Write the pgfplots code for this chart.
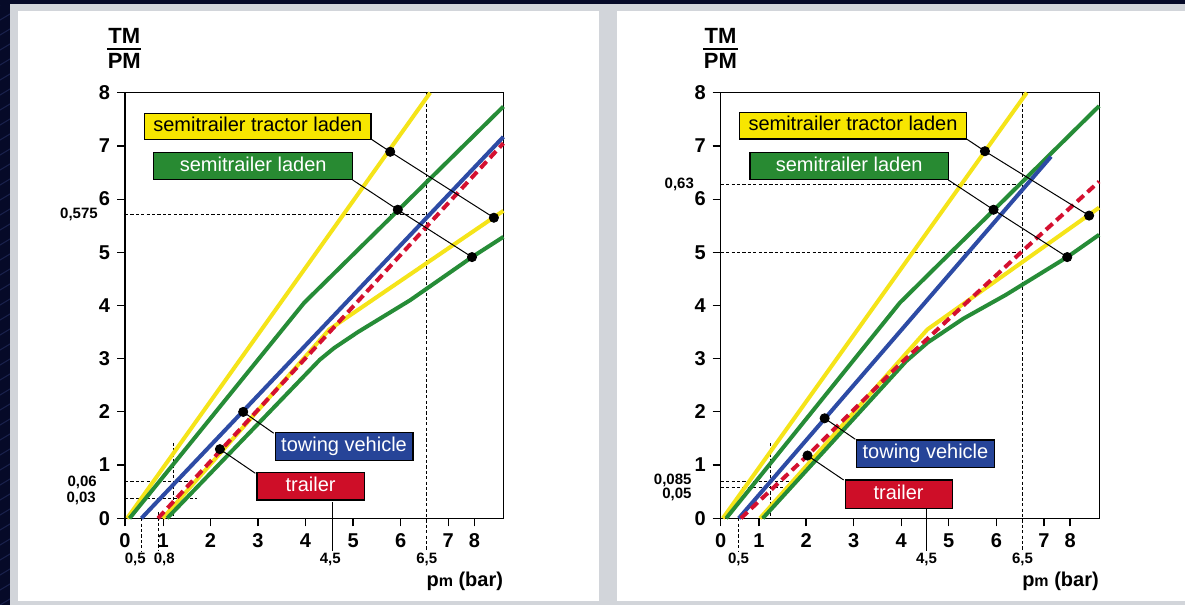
\documentclass[border=0pt]{standalone}
\usepackage{pgfplots}
\pgfplotsset{compat=1.18}
\usepackage{fontspec}
\setmainfont{Liberation Sans}

\definecolor{navy}{RGB}{6,10,40}
\definecolor{stripe}{RGB}{26,34,78}
\definecolor{frame}{RGB}{210,213,218}
\definecolor{cY}{RGB}{245,228,25}
\definecolor{cYbox}{RGB}{247,230,0}
\definecolor{cG}{RGB}{38,140,55}
\definecolor{cGbox}{RGB}{40,138,50}
\definecolor{cB}{RGB}{45,75,165}
\definecolor{cBbox}{RGB}{38,68,152}
\definecolor{cR}{RGB}{212,16,48}
\definecolor{cRbox}{RGB}{206,14,40}

\newcommand{\tickfont}{\fontsize{10}{12}\selectfont\bfseries}
\newcommand{\fracfont}{\fontsize{11}{12}\selectfont\bfseries}
\newcommand{\smallfont}{\fontsize{7.5}{9}\selectfont\bfseries}
\newcommand{\boxfont}{\fontsize{10}{12}\selectfont}

\pgfplotsset{
  brk/.style={
    scale only axis, width=189.2pt, height=212.8pt,
    xmin=0.205, xmax=8.16, ymin=0, ymax=8,
    clip=false,
    axis line style={black, line width=0.6pt},
    tick style={black, line width=0.6pt},
    major tick length=4pt,
    tick align=outside, tick pos=left,
    xtick={0.205,1.01,2,3,4,5,6,7,7.55},
    xticklabels={0,1,2,3,4,5,6,7,8},
    ytick={0,1,2,3,4,5,6,7,8},
    yticklabels={0,1,2,3,4,5,6,7,8},
    tick label style={font=\tickfont},
    /pgf/number format/assume math mode=true,
  },
  cy/.style={cY, line width=2pt, line join=round},
  cg/.style={cG, line width=2pt, line join=round},
  cb/.style={cB, line width=2pt, line join=round},
  cr/.style={cR, line width=2pt, dash pattern=on 4.5pt off 2.5pt},
  refd/.style={black, line width=0.5pt, dash pattern=on 1.6pt off 1.1pt},
  refs/.style={black, line width=0.5pt},
  leader/.style={black, line width=0.5pt},
  dots/.style={only marks, mark=*, mark size=2.3pt, black},
}
\tikzset{
  lbl/.style={draw=black, line width=0.6pt, inner sep=0pt, font=\boxfont, text height=7.3pt, text depth=2pt},
  sm/.style={font=\smallfont, inner sep=0pt},
}

\begin{document}
\begin{tikzpicture}[x=0.5pt,y=0.5pt]
\fill[navy] (0,0) rectangle (1185,605);
\begin{scope}
\clip (0,0) rectangle (1185,605);
\foreach \i in {-42,...,48} \draw[stripe, line width=0.5pt] (\i*25,0) -- ++(1000,600);
\end{scope}
\fill[frame] (10,0) rectangle (1185,601);
\fill[white] (18,4) rectangle (599,594);
\fill[white] (617,4) rectangle (1185,594);

% ---------------- left chart ----------------
\begin{axis}[brk, at={(62.5pt,43.35pt)}, anchor=south west]
\addplot[refd] coordinates {(0.205,5.72) (6.55,5.72)};
\addplot[refd] coordinates {(6.55,8) (6.55,-0.62)};
\addplot[refd] coordinates {(0.205,0.69) (1.72,0.69)};
\addplot[refd] coordinates {(0.205,0.376) (1.72,0.376)};
\addplot[refd] coordinates {(1.23,1.42) (1.23,0)};
\addplot[refd] coordinates {(0.56,0) (0.56,-0.62)};
\addplot[refd] coordinates {(0.91,0.12) (0.91,-0.62)};
\addplot[refs] coordinates {(4.56,0.3) (4.56,-0.62)};

\addplot[cy] coordinates {(0.25,0) (6.62,8)};
\addplot[cy] coordinates {(1.0,0) (4.5,3.55) (8.16,5.78)};
\addplot[cg] coordinates {(0.30,0) (3.97,4.05) (8.16,7.74)};
\addplot[cg] coordinates {(1.09,0) (4.3,2.98) (4.6,3.2) (5.1,3.5) (6.2,4.1) (7.5,4.91) (8.16,5.29)};
\addplot[cb] coordinates {(0.55,0) (8.16,7.17)};
\addplot[cr] coordinates {(0.9,0) (8.16,7.05)};

\addplot[leader] coordinates {(5.376,7.13) (5.78,6.89) (7.96,5.65)};
\addplot[leader] coordinates {(4.99,6.36) (5.94,5.80) (7.50,4.91)};
\addplot[leader] coordinates {(2.69,2.0) (3.33,1.60)};
\addplot[leader] coordinates {(2.20,1.30) (2.945,0.846)};
\addplot[dots] coordinates {(5.78,6.89) (7.96,5.65) (5.94,5.80) (7.50,4.91) (2.69,2.0) (2.20,1.30)};

\node[lbl, fill=cYbox, minimum width=113.2pt, minimum height=13pt] at (axis cs:2.997,7.37) {semitrailer tractor laden};
\node[lbl, fill=cGbox, text=white, minimum width=99.5pt, minimum height=13.7pt] at (axis cs:2.90,6.62) {semitrailer laden};
\node[lbl, fill=cBbox, text=white, minimum width=68.9pt, minimum height=14.2pt] at (axis cs:4.81,1.35) {towing vehicle};
\node[lbl, fill=cRbox, text=white, minimum width=53.6pt, minimum height=13.7pt] at (axis cs:4.107,0.60) {trailer};

\node[sm, anchor=east] at (axis cs:-0.36,5.72) {0,575};
\node[sm, anchor=east] at (axis cs:-0.38,0.67) {0,06};
\node[sm, anchor=east] at (axis cs:-0.40,0.376) {0,03};
\node[sm] at (axis cs:0.42,-0.77) {0,5};
\node[sm] at (axis cs:1.03,-0.77) {0,8};
\node[sm] at (axis cs:4.52,-0.77) {4,5};
\node[sm] at (axis cs:6.55,-0.77) {6,5};
\node[anchor=east, font=\tickfont, inner sep=0pt] at (axis cs:8.16,-1.18) {p{\fontsize{8}{8}\selectfont m} (bar)};
\node[font=\fracfont, inner sep=0pt] at (axis cs:0.19,9.06) {TM};
\node[font=\fracfont, inner sep=0pt] at (axis cs:0.19,8.59) {PM};
\draw[black, line width=1pt] (axis cs:-0.17,8.82) -- (axis cs:0.55,8.82);
\end{axis}

% ---------------- right chart ----------------
\begin{axis}[brk, at={(360.35pt,43.35pt)}, anchor=south west]
\addplot[refd] coordinates {(0.205,6.27) (6.55,6.27)};
\addplot[refd] coordinates {(0.205,5.0) (6.55,5.0)};
\addplot[refd] coordinates {(6.55,8) (6.55,-0.62)};
\addplot[refd] coordinates {(0.205,0.69) (1.71,0.69)};
\addplot[refd] coordinates {(0.205,0.575) (1.71,0.575)};
\addplot[refd] coordinates {(1.26,1.42) (1.26,0)};
\addplot[refd] coordinates {(0.58,0) (0.58,-0.62)};
\addplot[refs] coordinates {(4.54,0.19) (4.54,-0.62)};

\addplot[cy] coordinates {(0.25,0) (6.64,8)};
\addplot[cy] coordinates {(1.03,0) (4.55,3.55) (8.16,5.84)};
\addplot[cg] coordinates {(0.32,0) (3.97,4.05) (8.16,7.75)};
\addplot[cg] coordinates {(1.09,0) (4.1,2.95) (4.55,3.3) (5.3,3.75) (6.2,4.2) (7.49,4.91) (8.16,5.33)};
\addplot[cb] coordinates {(0.585,0) (7.15,6.8)};
\addplot[cr] coordinates {(0.63,0) (2.03,1.18) (3.95,2.88) (6.52,5.0) (8.16,6.33)};

\addplot[leader] coordinates {(5.374,7.13) (5.76,6.90) (7.95,5.69)};
\addplot[leader] coordinates {(4.99,6.36) (5.94,5.80) (7.49,4.91)};
\addplot[leader] coordinates {(2.39,1.88) (3.036,1.485)};
\addplot[leader] coordinates {(2.03,1.18) (2.79,0.72)};
\addplot[dots] coordinates {(5.76,6.90) (7.95,5.69) (5.94,5.80) (7.49,4.91) (2.39,1.88) (2.03,1.18)};

\node[lbl, fill=cYbox, minimum width=113.6pt, minimum height=13.3pt] at (axis cs:2.986,7.38) {semitrailer tractor laden};
\node[lbl, fill=cGbox, text=white, minimum width=99.2pt, minimum height=13.7pt] at (axis cs:2.907,6.62) {semitrailer laden};
\node[lbl, fill=cBbox, text=white, minimum width=68.9pt, minimum height=13.7pt] at (axis cs:4.51,1.215) {towing vehicle};
\node[lbl, fill=cRbox, text=white, minimum width=53.5pt, minimum height=14.2pt] at (axis cs:3.945,0.454) {trailer};

\node[sm, anchor=east] at (axis cs:-0.35,6.27) {0,63};
\node[sm, anchor=east] at (axis cs:-0.40,0.72) {0,085};
\node[sm, anchor=east] at (axis cs:-0.40,0.45) {0,05};
\node[sm] at (axis cs:0.58,-0.77) {0,5};
\node[sm] at (axis cs:4.53,-0.77) {4,5};
\node[sm] at (axis cs:6.55,-0.77) {6,5};
\node[anchor=east, font=\tickfont, inner sep=0pt] at (axis cs:8.16,-1.18) {p{\fontsize{8}{8}\selectfont m} (bar)};
\node[font=\fracfont, inner sep=0pt] at (axis cs:0.20,9.06) {TM};
\node[font=\fracfont, inner sep=0pt] at (axis cs:0.20,8.59) {PM};
\draw[black, line width=1pt] (axis cs:-0.16,8.82) -- (axis cs:0.56,8.82);
\end{axis}
\pgfresetboundingbox
\path[use as bounding box] (0,0) rectangle (1185,605);
\end{tikzpicture}
\end{document}
